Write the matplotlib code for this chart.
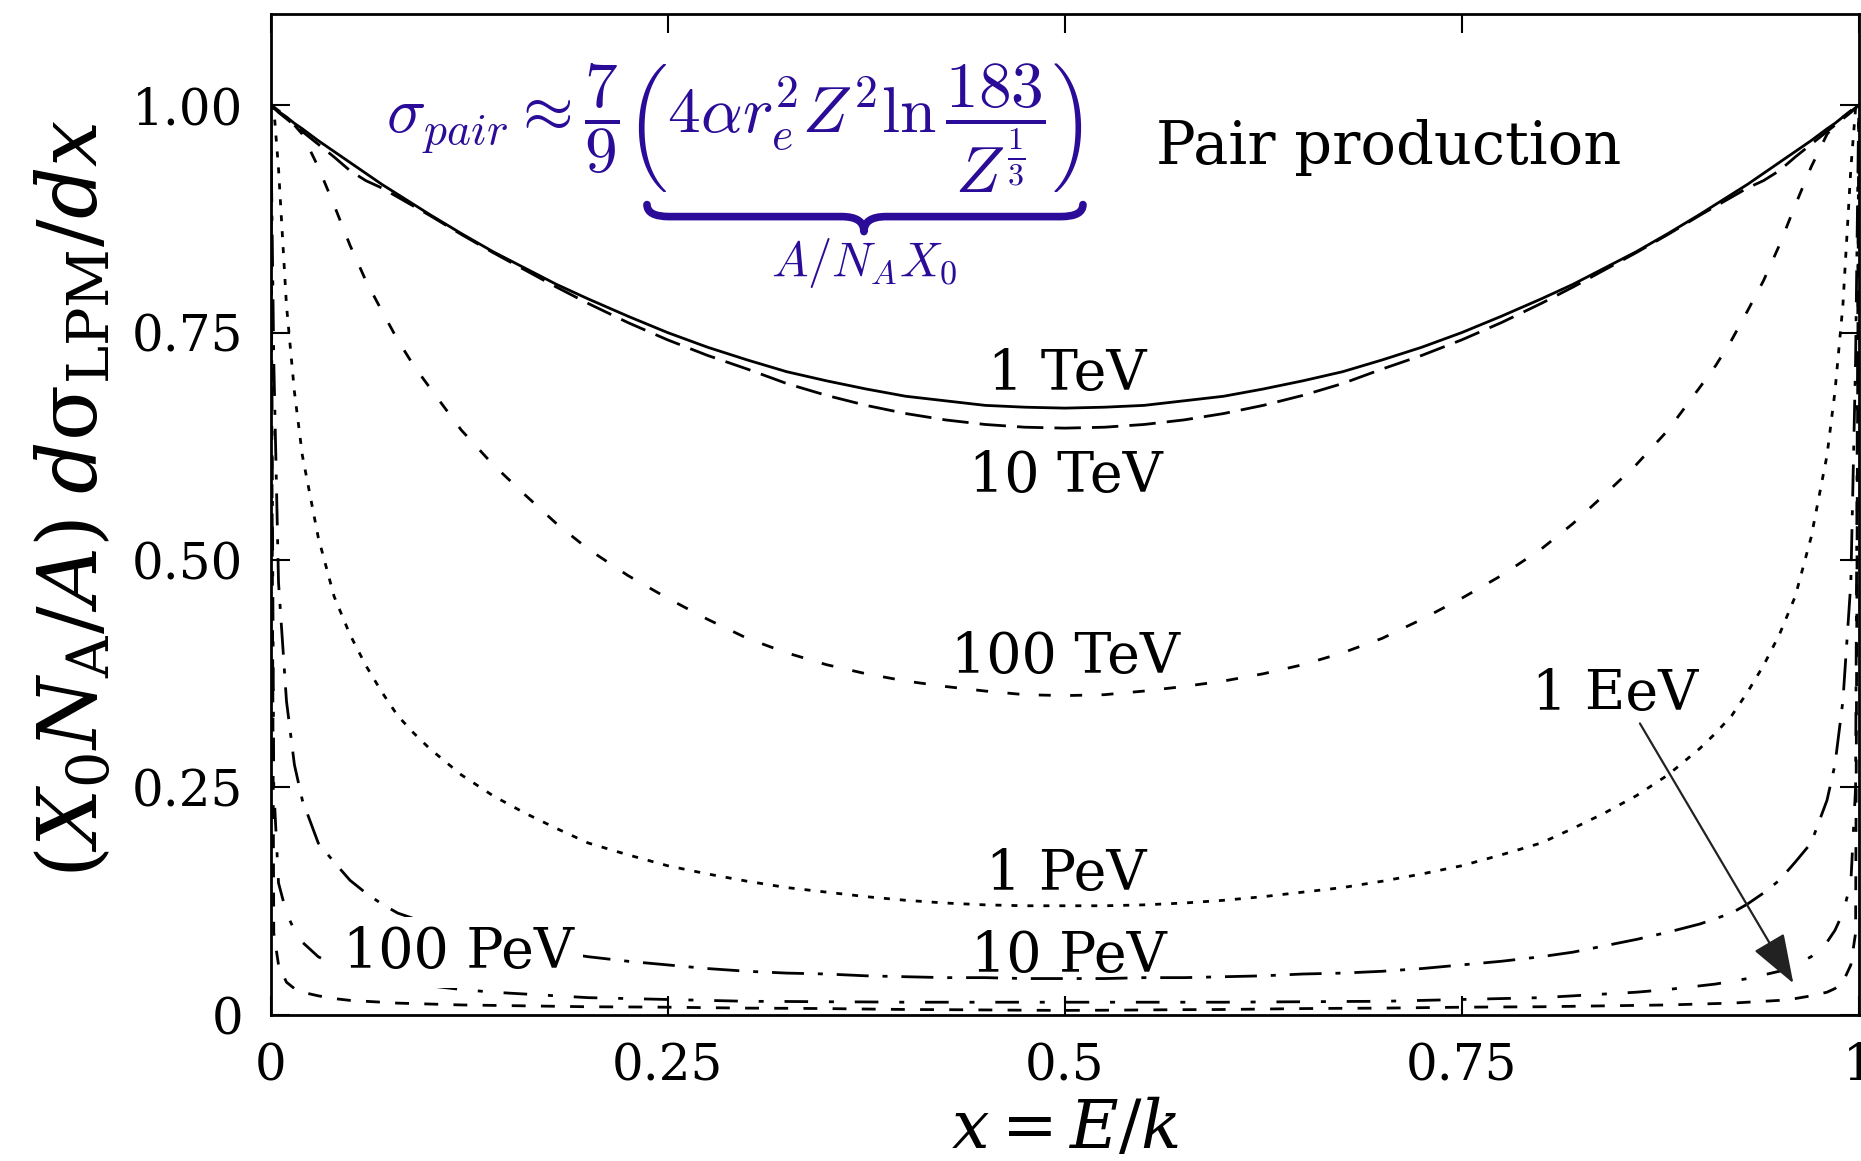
import numpy as np
import matplotlib
matplotlib.use("Agg")
import matplotlib.pyplot as plt
from matplotlib.path import Path
from matplotlib.patches import PathPatch

plt.rcParams['font.family'] = 'DejaVu Serif'
plt.rcParams['mathtext.fontset'] = 'dejavuserif'
plt.rcParams['lines.scale_dashes'] = False

# x = E/k grid (values at these points)
x_vals = [0, 0.002, 0.005, 0.01, 0.015, 0.02, 0.03, 0.04, 0.05, 0.06, 0.07, 0.08, 0.09,
          0.1, 0.12, 0.14, 0.16, 0.18, 0.2, 0.225, 0.25, 0.275, 0.3, 0.325, 0.35, 0.375,
          0.4, 0.425, 0.45, 0.475, 0.5,
          0.525, 0.55, 0.575, 0.6, 0.625, 0.65, 0.675, 0.7, 0.725, 0.75, 0.775, 0.8,
          0.82, 0.84, 0.86, 0.88, 0.9, 0.91, 0.92, 0.93, 0.94, 0.95, 0.96, 0.97, 0.98,
          0.985, 0.99, 0.995, 0.998, 1]

tev1 = [1.000, .997, .993, .987, .980, .974, .961, .949, .937, .925, .913, .902, .891,
        .880, .859, .839, .821, .803, .787, .768, .750, .734, .720, .707, .697, .688,
        .680, .675, .670, .668, .667,
        .668, .670, .675, .680, .688, .697, .707, .720, .734, .750, .768, .787,
        .803, .821, .839, .859, .880, .891, .902, .913, .925, .937, .949, .961, .974,
        .980, .987, .993, .997, 1.000]
tev10 = [1.000, .997, .992, .985, .978, .971, .957, .943, .928, .917, .909, .899, .889,
         .879, .858, .838, .819, .800, .782, .761, .742, .725, .710, .694, .681, .670,
         .661, .654, .649, .646, .645,
         .646, .649, .654, .661, .670, .681, .694, .710, .725, .742, .761, .782,
         .800, .819, .838, .858, .879, .889, .899, .909, .917, .928, .943, .957, .971,
         .978, .985, .992, .997, 1.000]
tev100 = [1.000, .998, .994, .987, .978, .968, .932, .890, .846, .807, .774, .742, .714,
          .690, .643, .605, .572, .540, .512, .483, .458, .435, .414, .398, .385, .375,
          .367, .361, .356, .352, .351,
          .352, .356, .361, .367, .375, .385, .398, .414, .435, .458, .483, .512,
          .540, .572, .605, .643, .690, .714, .742, .774, .807, .846, .890, .932, .968,
          .978, .987, .994, .998, 1.000]
pev1 = [1.000, .997, .930, .780, .685, .615, .525, .460, .418, .384, .355, .329, .310,
        .293, .264, .241, .222, .205, .189, .176, .164, .155, .147, .140, .135, .130,
        .126, .123, .121, .120, .120,
        .120, .121, .123, .126, .130, .135, .140, .147, .155, .164, .176, .189,
        .205, .222, .241, .264, .293, .310, .329, .355, .384, .418, .460, .525, .615,
        .685, .780, .930, .997, 1.000]
pev10 = [1.000, .720, .475, .345, .275, .236, .189, .168, .148, .134, .122, .112, .106,
         .100, .091, .083, .076, .069, .064, .059, .055, .051, .048, .046, .045, .043,
         .042, .041, .041, .040, .040,
         .040, .041, .041, .042, .043, .045, .046, .048, .051, .055, .059, .064,
         .069, .076, .083, .091, .100, .106, .112, .122, .134, .148, .168, .189, .236,
         .275, .345, .475, .720, 1.000]
pev100 = [1.000, .250, .145, .112, .093, .080, .064, .055, .048, .044, .040, .037, .034,
          .032, .028, .025, .023, .021, .019, .018, .017, .016, .015, .0148, .0145, .0143,
          .014, .014, .014, .014, .014,
          .014, .014, .014, .014, .0143, .0145, .0148, .015, .016, .017, .018, .019,
          .021, .023, .025, .028, .032, .034, .037, .040, .044, .048, .055, .064, .080,
          .093, .112, .145, .250, 1.000]
eev1 = [1.000, .090, .055, .036, .029, .025, .021, .018, .016, .015, .014, .013, .0125,
        .012, .011, .0105, .010, .0095, .009, .0088, .0085, .008, .0075, .0073, .007, .0065,
        .006, .0058, .0055, .0052, .005,
        .0052, .0055, .0058, .006, .0065, .007, .0073, .0075, .008, .0085, .0088, .009,
        .0095, .010, .0105, .011, .012, .0125, .013, .014, .015, .016, .018, .021, .025,
        .029, .036, .055, .090, 1.000]

x_ticks = [0, 0.25, 0.5, 0.75, 1]
x_ticklabels = ['0', '0.25', '0.5', '0.75', '1']
y_ticks = [0, 0.25, 0.5, 0.75, 1.0]
y_ticklabels = ['0', '0.25', '0.50', '0.75', '1.00']

formula_color = '#2B0C98'

fig = plt.figure(figsize=(18.61, 11.61), dpi=100)
ax = fig.add_axes([0.1454, 0.1258, 0.8534, 0.862])

lw = 2.0
ax.plot(x_vals, tev1, color='black', lw=lw, linestyle='-')
ax.plot(x_vals, tev10, color='black', lw=lw, linestyle=(0, (19, 8)))
ax.plot(x_vals, tev100, color='black', lw=lw, linestyle=(0, (8.6, 14)))
ax.plot(x_vals, pev1, color='black', lw=lw, linestyle=(0, (4.3, 7.2)))
ax.plot(x_vals, pev10, color='black', lw=lw, linestyle=(0, (23, 10, 3.6, 10)))
ax.plot(x_vals, pev100, color='black', lw=lw, linestyle=(0, (17, 15, 3.6, 15)))
ax.plot(x_vals, eev1, color='black', lw=lw, linestyle=(0, (10, 11)))

ax.set_xlim(0, 1)
ax.set_ylim(0, 1.1)
ax.set_xticks(x_ticks)
ax.set_xticklabels(x_ticklabels)
ax.set_yticks(y_ticks)
ax.set_yticklabels(y_ticklabels)
ax.tick_params(direction='in', length=14, width=1.5, pad=19.5, labelsize=36,
               top=True, right=True)
for sp in ax.spines.values():
    sp.set_linewidth(2)

ax.set_xlabel(r'$x = E/k$', fontsize=48)
ax.xaxis.set_label_coords(0.5, -0.082)
ax.set_ylabel(r'$(X_0N_{\mathrm{A}}/A)\;d\mathrm{σ}_{\mathrm{LPM}}/dx$', fontsize=59)
ax.yaxis.set_label_coords(-0.098, 0.516)

# curve labels
lab = dict(fontsize=40, ha='center', va='baseline')
ax.text(0.5017, 0.6864, '1 TeV', **lab)
ax.text(0.5008, 0.5744, '10 TeV', **lab)
ax.text(0.5008, 0.3756, '100 TeV', **lab)
ax.text(0.5008, 0.1373, '1 PeV', **lab)
ax.text(0.5027, 0.0472, '10 PeV', **lab)
ax.text(0.1186, 0.0516, '100 PeV',
        bbox=dict(boxstyle='square,pad=0.15', fc='white', ec='none'), **lab)
ax.text(0.8466, 0.335, '1 EeV', **lab)
ax.text(0.7042, 0.9358, 'Pair production', fontsize=42.5, ha='center', va='baseline')

ax.annotate('', xy=(0.9588, 0.0348), xytext=(0.8622, 0.3204),
            arrowprops=dict(arrowstyle='-|>,head_length=1.55,head_width=0.55',
                            mutation_scale=20, lw=1.6, color='#222222',
                            shrinkA=0, shrinkB=0))

# formula with an underbrace
ax.text(0.0727, 0.975,
        r'$\sigma_{pair} \approx \dfrac{7}{9}\left(4\alpha r_e^2 Z^2 \ln\dfrac{183}{Z^{\frac{1}{3}}}\right)$',
        fontsize=47, color=formula_color, ha='left', va='center', math_fontfamily='cm')

x0, x1, xc = 0.237, 0.5115, 0.3736
yt, ym, ytip = 0.8907, 0.8775, 0.861
q = 0.014
verts = [(x0, yt), (x0, ym), (x0 + q, ym),
         (xc - q, ym), (xc, ym), (xc, ytip),
         (xc, ym), (xc + q, ym),
         (x1 - q, ym), (x1, ym), (x1, yt)]
codes = [Path.MOVETO, Path.CURVE3, Path.CURVE3,
         Path.LINETO, Path.CURVE3, Path.CURVE3,
         Path.CURVE3, Path.CURVE3,
         Path.LINETO, Path.CURVE3, Path.CURVE3]
ax.add_patch(PathPatch(Path(verts, codes), fc='none', ec=formula_color, lw=5.5,
                       capstyle='round', joinstyle='round'))
ax.text(0.3736, 0.827, r'$A/N_AX_0$', fontsize=35, color=formula_color,
        ha='center', va='center', math_fontfamily='cm')

fig.savefig('out.png', dpi=100)
